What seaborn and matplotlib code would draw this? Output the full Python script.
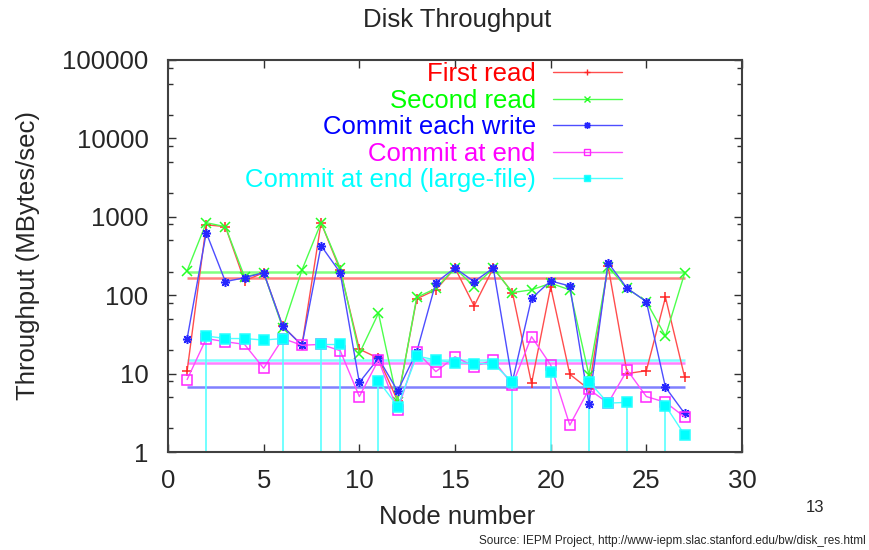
import numpy as np
import pandas as pd
import matplotlib
matplotlib.use("Agg")
import matplotlib.pyplot as plt
from matplotlib.lines import Line2D
from matplotlib.colors import to_rgb
from matplotlib.ticker import LogLocator, FixedLocator, NullFormatter
import seaborn as sns

# ---------------- data ----------------
nodes = list(range(1, 28))
first_read = [10.8, 790, 750, 152, 194, 40, 23, 841, 209, 20.5, 15.7, 4.5, 90, 117,
              222, 73, 222, 108, 7.5, 128, 9.8, 6.3, 235, 10, 10.9, 94, 9.1]
second_read = [205, 841, 748, 172, 194, 38, 209, 841, 222, 18, 59, 4.4, 94, 122,
               222, 128, 222, 108, 117, 142, 117, 9.6, 231, 122, 83, 30, 190]
commit_each = [28, 627, 149, 167, 194, 40, 23, 428, 194, 7.7, 15.7, 6.0, 19, 145,
               222, 149, 222, 7.9, 91, 152, 131, 4.1, 260, 122, 83, 6.7, 3.1]
commit_end = [8.4, 28, 25.5, 23.6, 11.7, 28, 23, 23.6, 19.6, 5.1, 14.9, 3.4, 19, 10.6,
              16.4, 12.3, 14.9, 7.2, 29.6, 12.9, 2.2, 6.3, 4.2, 11.1, 5.1, 4.3, 2.8]
nan = np.nan
commit_end_large = [nan, 30.2, 28, 28, 26.8, 28, nan, 23.6, 23.6, nan, 8.1, 3.8, 16.8, 14.9,
                    13.8, 13.4, 13.4, 7.8, nan, 10.6, nan, 7.9, 4.2, 4.3, nan, 3.9, 1.65]
averages = [167, 199, 6.7, 13.8, 14.9]

labels = ["First read", "Second read", "Commit each write", "Commit at end",
          "Commit at end (large-file)"]
colors = ["#ff0000", "#00ff00", "#0000ff", "#ff00ff", "#00ffff"]
markers = ["+", "x", (8, 2, 0), "s", "s"]
fills = ["full", "full", "full", "none", "full"]
ytick_vals = [1, 10, 100, 1000, 10000, 100000]
ytick_labels = ["1", "10", "100", "1000", "10000", "100000"]
xtick_vals = [0, 5, 10, 15, 20, 25, 30]


def lighten(c, f):
    r, g, b = to_rgb(c)
    return (r + (1 - r) * f, g + (1 - g) * f, b + (1 - b) * f)


# ---------------- style ----------------
sns.set_style("ticks")
plt.rcParams["font.family"] = ["Liberation Sans", "DejaVu Sans"]
FS = 18.5

fig = plt.figure(figsize=(8.7, 5.5), dpi=100)
ax = fig.add_axes([168 / 870, 1 - 452 / 550, 574 / 870, 392 / 550])

series = [first_read, second_read, commit_each, commit_end, commit_end_large]

for vals, lab, col, mk, fs, avg in zip(series, labels, colors, markers, fills, averages):
    df = pd.DataFrame({"node": nodes, "value": vals})
    df["seg"] = df["value"].isna().cumsum()
    df = df.dropna()
    sns.lineplot(data=df, x="node", y="value", units="seg", estimator=None,
                 color=lighten(col, 0.3), lw=1.0, marker=mk, markersize=6.5,
                 markeredgewidth=1.1, fillstyle=fs, markeredgecolor=lighten(col, 0.15),
                 markerfacecolor=col if fs == "full" else "none",
                 ax=ax, legend=False, zorder=3)
    ax.hlines(avg, min(nodes), max(nodes), color=lighten(col, 0.5), lw=1.8, zorder=2)

# impulses where a neighbouring value is missing
v = np.array(commit_end_large, dtype=float)
n = np.array(nodes)
prev_missing = np.r_[True, np.isnan(v[:-1])]
next_missing = np.r_[np.isnan(v[1:]), False]
imp = (~np.isnan(v)) & (prev_missing | next_missing)
ax.vlines(n[imp], 1, v[imp], color=lighten(colors[4], 0.35), lw=1.2, zorder=2)

ax.set_yscale("log")
ax.set_ylim(1, 1e5)
ax.set_xlim(0, 30)
ax.yaxis.set_major_locator(FixedLocator(ytick_vals))
ax.set_yticklabels(ytick_labels)
ax.yaxis.set_minor_locator(LogLocator(base=10, subs=[2, 5, 8]))
ax.yaxis.set_minor_formatter(NullFormatter())
ax.set_xticks(xtick_vals)
ax.set_xticklabels([str(t) for t in xtick_vals])
ax.tick_params(which="major", direction="in", top=True, right=True, length=6,
               width=1.0, labelsize=FS, color="#303030")
ax.tick_params(axis="y", which="major", pad=14)
ax.tick_params(axis="x", which="major", pad=12)
ax.tick_params(which="minor", direction="in", right=True, length=3.5, width=1.0,
               color="#303030")
ax.set_xlabel("")
ax.set_ylabel("")
for s in ax.spines.values():
    s.set_color("#404040")
    s.set_linewidth(1.5)

# legend
handles = [Line2D([], [], color=lighten(c, 0.3), lw=1.0, marker=m, markersize=5,
                  fillstyle=f, markeredgecolor=lighten(c, 0.15),
                  markerfacecolor=c if f == "full" else "none")
           for c, m, f in zip(colors, markers, fills)]
leg = ax.legend(handles, labels, loc="upper right",
                bbox_to_anchor=((622 - 168) / 574, 0.995), markerfirst=False,
                frameon=False, fontsize=FS, handlelength=2.7, handletextpad=0.65,
                labelspacing=0.1, borderpad=0, borderaxespad=0, labelcolor=colors)

# texts
fig.text(457 / 870, 1 - 20 / 550, "Disk Throughput", ha="center", va="center", fontsize=FS)
fig.text(457 / 870, 1 - 517 / 550, "Node number", ha="center", va="center", fontsize=FS)
fig.text(28 / 870, 1 - 256 / 550, "Throughput (MBytes/sec)", ha="center", va="center",
         rotation=90, fontsize=FS)
fig.text(815 / 870, 1 - 508 / 550, "13", ha="center", va="center", fontsize=12)
fig.text(866 / 870, 1 - 541 / 550,
         "Source: IEPM Project, http://www-iepm.slac.stanford.edu/bw/disk_res.html",
         ha="right", va="center", fontsize=8.5)

fig.savefig("out.png", dpi=100)
